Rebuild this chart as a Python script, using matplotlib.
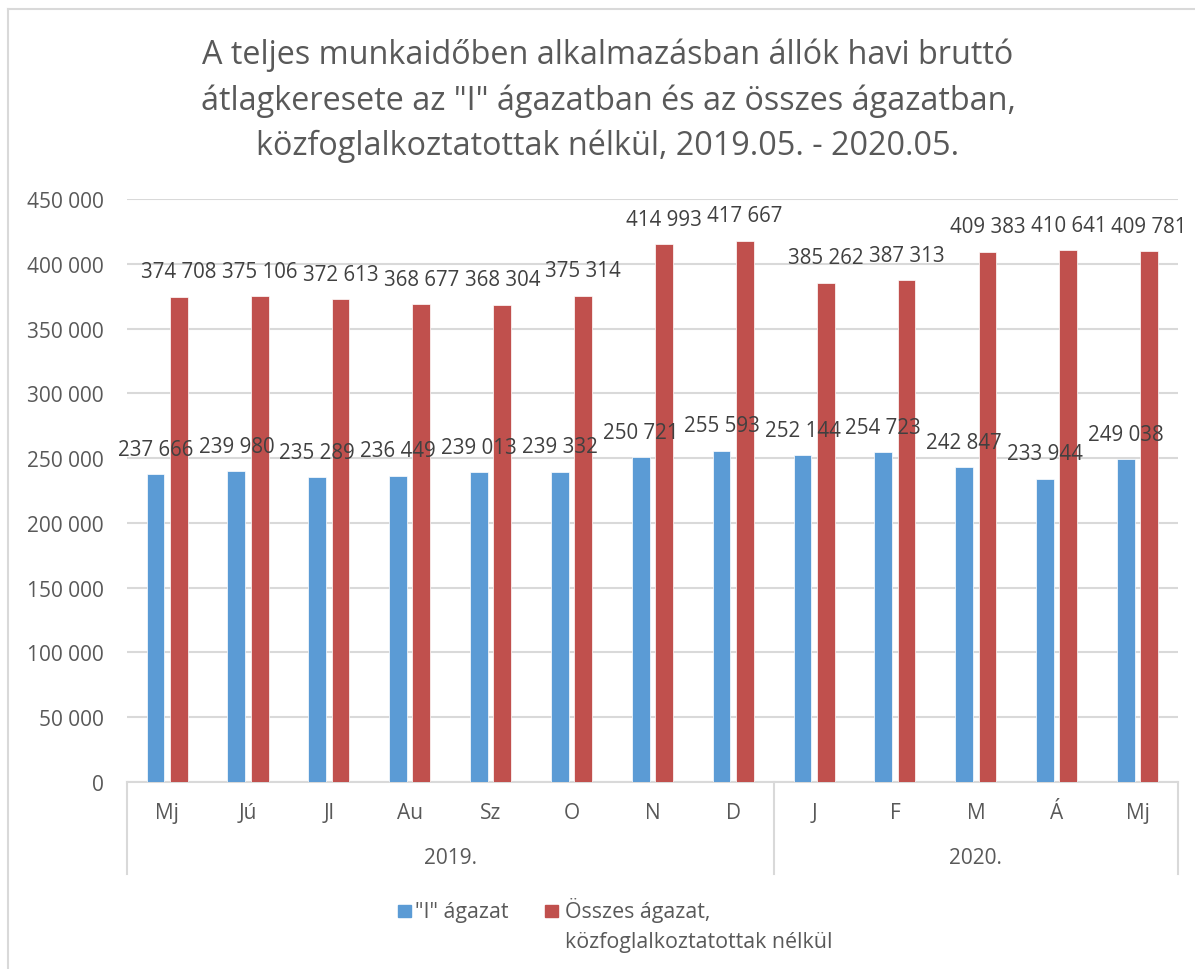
import matplotlib
matplotlib.use("Agg")
import matplotlib.pyplot as plt
from matplotlib.patches import Rectangle
from matplotlib.lines import Line2D

plt.rcParams['font.family'] = ['Open Sans', 'DejaVu Sans']

# data
months = ["Mj", "Jú", "Jl", "Au", "Sz", "O", "N", "D", "J", "F", "M", "Á", "Mj"]
years = ["2019.", "2020."]
year_spans = [(0, 7), (8, 12)]
agazat_i = [237666, 239980, 235289, 236449, 239013, 239332, 250721, 255593,
            252144, 254723, 242847, 233944, 249038]
osszes = [374708, 375106, 372613, 368677, 368304, 375314, 414993, 417667,
          385262, 387313, 409383, 410641, 409781]
series_names = ['"I" ágazat', 'Összes ágazat,\nközfoglalkoztatottak nélkül']
title = ('A teljes munkaidőben alkalmazásban állók havi bruttó\n'
         'átlagkeresete az "I" ágazatban és az összes ágazatban,\n'
         'közfoglalkoztatottak nélkül, 2019.05. - 2020.05.')

BLUE = "#5B9BD5"
RED = "#C0504D"
TXT = "#595959"
LBL = "#404040"
GRID = "#D9D9D9"
FS = 15

W, H = 1195, 970
fig = plt.figure(figsize=(W / 100, H / 100), dpi=100)
ax = fig.add_axes([126.7 / W, 1 - 783 / H, (1178 - 126.7) / W, 583 / H])

x = list(range(len(months)))
bw = 0.22
off = 0.144
ax.bar([i - off for i in x], agazat_i, width=bw, color=BLUE, edgecolor="white", linewidth=0.5, zorder=3)
ax.bar([i + off for i in x], osszes, width=bw, color=RED, edgecolor="white", linewidth=0.5, zorder=3)

def fmt(v):
    return f"{v:,}".replace(",", " ")

for i in x:
    ax.annotate(fmt(agazat_i[i]), (i - off, agazat_i[i]), xytext=(0, 14), textcoords="offset points",
                ha="center", va="baseline", fontsize=14.8, color=LBL, zorder=4)
    ax.annotate(fmt(osszes[i]), (i + off, osszes[i]), xytext=(0, 14), textcoords="offset points",
                ha="center", va="baseline", fontsize=14.8, color=LBL, zorder=4)

ax.set_xlim(-0.5, len(months) - 0.5)
ax.set_ylim(0, 450000)
ax.set_yticks(range(0, 450001, 50000))
ax.set_yticklabels([fmt(v) for v in range(0, 450001, 50000)], fontsize=FS, color=TXT)
ax.tick_params(axis="y", length=0, pad=16.5)
ax.set_xticks([])
ax.grid(axis="y", color=GRID, linewidth=1.5, zorder=0)
for s in ["top", "right", "left"]:
    ax.spines[s].set_visible(False)
ax.spines["bottom"].set_color(GRID)
ax.spines["bottom"].set_linewidth(1.5)
ax.spines["bottom"].set_zorder(2)

# multi-level category axis
tr = ax.get_xaxis_transform()
px = 1 / 583
for i, m in enumerate(months):
    ax.text(i, -31 * px, m, transform=tr, ha="center", va="center", fontsize=FS, color=TXT)
for (a, b), yr in zip(year_spans, years):
    ax.text((a + b) / 2, -76 * px, yr, transform=tr, ha="center", va="center", fontsize=FS, color=TXT)
for xv in [-0.5, 7.5, len(months) - 0.5]:
    ax.add_line(Line2D([xv, xv], [0, -92 * px], transform=tr, color=GRID, linewidth=1.5, clip_on=False))

# title
fig.text(608 / W, 1 - 101 / H, title, ha="center", va="center",
         fontsize=23.3, color=TXT, linespacing=1.48)

# legend drawn by hand
fig.add_artist(Rectangle((398 / W, 1 - 918 / H), 13 / W, 12 / H, color=BLUE, transform=fig.transFigure))
fig.text(415 / W, 1 - 918 / H, series_names[0], ha="left", va="baseline", fontsize=15.4, color=TXT)
fig.add_artist(Rectangle((545 / W, 1 - 918 / H), 13 / W, 12 / H, color=RED, transform=fig.transFigure))
fig.text(565 / W, 1 - 918 / H, series_names[1].split("\n")[0], ha="left", va="baseline", fontsize=15.4, color=TXT)
fig.text(565 / W, 1 - 948 / H, series_names[1].split("\n")[1], ha="left", va="baseline", fontsize=15.4, color=TXT)

# chart border
fig.add_artist(Line2D([8 / W, 8 / W], [0, 1 - 10 / H], transform=fig.transFigure, color=GRID, linewidth=1.5))
fig.add_artist(Line2D([8 / W, 1], [1 - 10 / H, 1 - 10 / H], transform=fig.transFigure, color=GRID, linewidth=1.5))

fig.savefig("out.png", dpi=100)
